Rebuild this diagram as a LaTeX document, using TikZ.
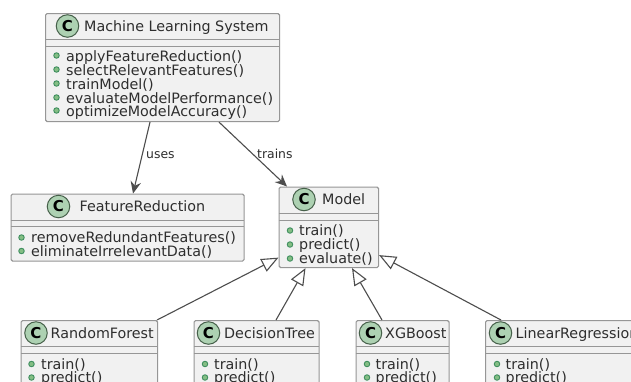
\documentclass[tikz,border=0pt]{standalone}
\usepackage{fontspec}
\setmainfont{DejaVu Sans}
\usetikzlibrary{arrows.meta}
\definecolor{bxfill}{HTML}{F1F1F1}
\definecolor{bxline}{HTML}{969696}
\definecolor{txtc}{HTML}{2E2E2E}
\definecolor{circf}{HTML}{ADD1B2}
\definecolor{circd}{HTML}{46604A}
\definecolor{dotf}{HTML}{84BE84}
\definecolor{dotd}{HTML}{3F8F5F}
\tikzset{
  umlbox/.style={draw=bxline,fill=bxfill,line width=1.1pt,rounded corners=1.5pt,inner sep=0pt,anchor=north west},
  sep/.style={draw=bxline,line width=1pt},
  title/.style={font=\fontsize{14.3}{16}\selectfont,text=txtc,anchor=base west,inner sep=0pt},
  member/.style={font=\fontsize{14.3}{16}\selectfont,text=txtc,anchor=base west,inner sep=0pt},
  cbadge/.style={circle,draw=circd,fill=circf,line width=1pt,minimum size=22.5pt,inner sep=0pt,font=\fontsize{15}{16}\selectfont\bfseries,text=black},
  vis/.style={circle,draw=dotd,fill=dotf,line width=0.9pt,minimum size=5.5pt,inner sep=0pt},
  conn/.style={draw=txtc!85,line width=1.1pt},
  usearrow/.style={conn,-{Stealth[length=12pt,width=10.5pt,inset=4pt]}},
  isa/.style={conn,-{Triangle[open,length=17pt,width=14pt,fill=white]}},
  lbl/.style={font=\fontsize{12.4}{14}\selectfont,text=txtc,anchor=base west,inner sep=0pt},
}
\newcommand{\umlclass}[5]{% name, x, y, w, h
  \node[umlbox,minimum width=#4pt,minimum height=#5pt] (#1) at (#2,#3) {};
}
\begin{document}
\begin{tikzpicture}[x=1pt,y=-1pt]
\useasboundingbox (0,0) rectangle (631,381);
\clip (0,0) rectangle (631,381);
\fill[white] (0,0) rectangle (631,381);

% Machine Learning System
\umlclass{mls}{45}{13}{234}{108}
\draw[sep] (45,39.5) -- (279,39.5) (45,46) -- (279,46);
\node[cbadge] (cm) at (67.5,26) {C};
\node[title] (tm) at (84,31) {Machine Learning System};
\foreach \yy/\tt in {56/applyFeatureReduction(),70/selectRelevantFeatures(),84/trainModel(),98/evaluateModelPerformance(),111/optimizeModelAccuracy()}{
  \node[vis] at (56.5,\yy-0.5) {};
  \node[member] at (66,\yy+5) {\tt};
}

% FeatureReduction
\umlclass{fr}{10.5}{193.5}{233}{67}
\draw[sep] (10.5,220) -- (243.5,220) (10.5,226) -- (243.5,226);
\node[cbadge] (cf) at (58.5,206.5) {C};
\node[title] (tf) at (79.5,211.5) {FeatureReduction};
\foreach \yy/\tt in {237.5/removeRedundantFeatures(),251/eliminateIrrelevantData()}{
  \node[vis] at (21.5,\yy) {};
  \node[member] at (31,\yy+5) {\tt};
}

% Model
\umlclass{mod}{278.5}{186.5}{99.5}{80.5}
\draw[sep] (278.5,213.5) -- (378,213.5) (278.5,220) -- (378,220);
\node[cbadge] (cmo) at (304,199.5) {C};
\node[title] (tmo) at (322,204.5) {Model};
\foreach \yy/\tt in {230.5/train(),244.5/predict(),258.5/evaluate()}{
  \node[vis] at (290,\yy) {};
  \node[member] at (299,\yy+5) {\tt};
}

% Subclasses
\umlclass{rf}{20.5}{320}{136.5}{80}
\umlclass{dt}{193.5}{320}{125}{80}
\umlclass{xg}{355.5}{320}{93}{80}
\umlclass{lr}{485}{320}{170}{80}
\draw[sep] (20.5,346) -- (157,346) (20.5,353) -- (157,353);
\draw[sep] (193.5,346) -- (318.5,346) (193.5,353) -- (318.5,353);
\draw[sep] (355.5,346) -- (448.5,346) (355.5,353) -- (448.5,353);
\draw[sep] (485,346) -- (655,346) (485,353) -- (655,353);
\node[cbadge] (c1) at (36,333) {C};
\node[title] (t1) at (50.5,338) {RandomForest};
\node[cbadge] (c2) at (208.5,333) {C};
\node[title] (t2) at (224,338) {DecisionTree};
\node[cbadge] (c3) at (370.5,333) {C};
\node[title] (t3) at (385,338) {XGBoost};
\node[cbadge] (c4) at (500.5,333) {C};
\node[title] (t4) at (515.5,338) {LinearRegression};
\foreach \xa/\xb in {31.5/41,205/214,367/375.5,497/505.5}{
  \node[vis] at (\xa,364) {};
  \node[member] at (\xb,369) {train()};
  \node[vis] at (\xa,377.5) {};
  \node[member] at (\xb,382.5) {predict()};
}

% Connectors
\draw[usearrow] ([xshift=105pt]mls.south west) -- ([xshift=122.5pt]fr.north west);
\node[lbl] (lu) at (146,158) {uses};
\draw[usearrow] ([xshift=174pt]mls.south west) -- ([xshift=8.5pt]mod.north west);
\node[lbl] (lt) at (257,158) {trains};
\draw[isa] ([xshift=136.5pt]rf.north west) -- ([yshift=10.5pt]mod.south west);
\draw[isa] ([xshift=82.5pt]dt.north west) -- ([xshift=27pt]mod.south west);
\draw[isa] ([xshift=26.5pt]xg.north west) -- ([xshift=73.5pt]mod.south west);
\draw[isa] ([xshift=16pt]lr.north west) -- ([yshift=13pt]mod.south east);
\end{tikzpicture}
\end{document}
